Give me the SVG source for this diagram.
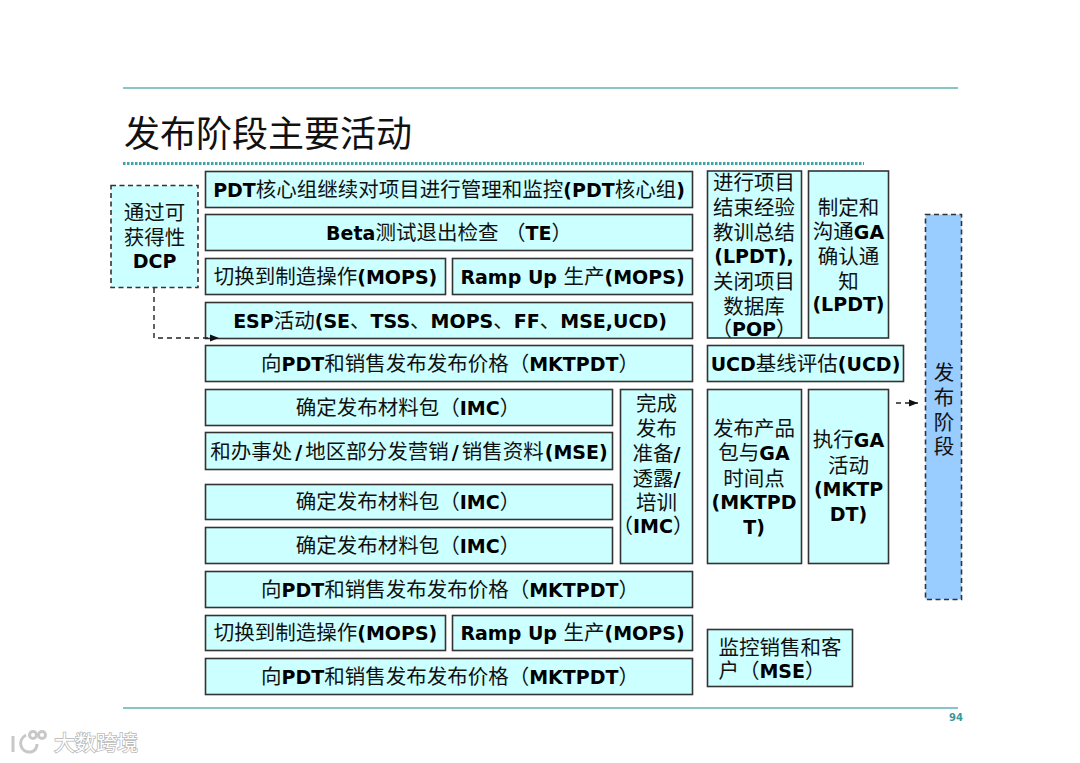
<svg xmlns="http://www.w3.org/2000/svg" width="1080" height="763" viewBox="0 0 1080 763">
<style>
text{font-family:"DejaVu Sans","Noto Sans CJK SC",sans-serif;font-size:20.500px;fill:#111;text-anchor:middle}
.b{font-weight:bold;font-size:19px;fill:#000}
.n rect{fill:#ccffff;stroke:#333;stroke-width:1.6}
.d rect{stroke-dasharray:5 3.500}
.c{fill:none;stroke:#222;stroke-width:1.400;stroke-dasharray:5 4}
.r{stroke:#5fb3b3;stroke-width:1.600}
</style>
<defs><marker id="a" markerWidth="10" markerHeight="8" refX="9" refY="4" orient="auto" markerUnits="userSpaceOnUse"><path d="M0 0.500L9 4L0 7.500z" fill="#111"/></marker></defs>
<rect width="1080" height="763" fill="#fff"/>
<line class="r" x1="123" y1="88" x2="958" y2="88"/>
<line class="r" x1="123" y1="708" x2="958" y2="708"/>
<line x1="123" y1="163.500" x2="864" y2="163.500" stroke="#3fa3a3" stroke-width="3" stroke-dasharray="2.500 1.500"/>
<text x="268" y="147" style="font-size:36px">发布阶段主要活动</text>
<text x="956" y="721" class="b" style="font-size:10px;fill:#3a9a9a">94</text>

<g id="dcp" class="n d"><rect x="111" y="185.500" width="87" height="102"/><text x="154.500" y="220">通过可</text><text x="154.500" y="245">获得性</text><text x="154.500" y="268" class="b">DCP</text></g>
<g id="n1" class="n"><rect x="205.500" y="171.500" width="487" height="36"/><text x="449" y="197"><tspan class="b">PDT</tspan>核心组继续对项目进行管理和监控<tspan class="b">(PDT</tspan>核心组<tspan class="b">)</tspan></text></g>
<g id="n2" class="n"><rect x="205.500" y="214.500" width="487" height="36"/><text x="449" y="240"><tspan class="b">Beta</tspan>测试退出检查 （<tspan class="b">TE</tspan>）</text></g>
<g id="n3a" class="n"><rect x="205.500" y="258.500" width="240" height="36"/><text x="325.500" y="284">切换到制造操作<tspan class="b">(MOPS)</tspan></text></g>
<g id="n3b" class="n"><rect x="452.500" y="258.500" width="240" height="36"/><text x="572.500" y="284"><tspan class="b">Ramp Up </tspan>生产<tspan class="b">(MOPS)</tspan></text></g>
<g id="n4" class="n"><rect x="205.500" y="302.500" width="487" height="36"/><text x="450" y="328"><tspan class="b">ESP</tspan>活动<tspan class="b">(SE</tspan>、<tspan class="b">TSS</tspan>、<tspan class="b">MOPS</tspan>、<tspan class="b">FF</tspan>、<tspan class="b">MSE,UCD)</tspan></text></g>
<g id="n5" class="n"><rect x="205.500" y="345.500" width="487" height="36"/><text x="450" y="371">向<tspan class="b">PDT</tspan>和销售发布发布价格（<tspan class="b">MKTPDT</tspan>）</text></g>
<g id="n6" class="n"><rect x="205.500" y="389.500" width="407" height="36"/><text x="408" y="415">确定发布材料包（<tspan class="b">IMC</tspan>）</text></g>
<g id="n7" class="n"><rect x="205.500" y="432.500" width="407" height="37"/><text x="409" y="459">和办事处<tspan class="b" dx="3">/</tspan><tspan dx="3">地区部分发营销</tspan><tspan class="b" dx="3">/</tspan><tspan dx="3">销售资料</tspan><tspan class="b" dx="1">(MSE)</tspan></text></g>
<g id="n8" class="n"><rect x="205.500" y="484.500" width="407" height="35"/><text x="408" y="509">确定发布材料包（<tspan class="b">IMC</tspan>）</text></g>
<g id="n9" class="n"><rect x="205.500" y="527.500" width="407" height="36"/><text x="408" y="553">确定发布材料包（<tspan class="b">IMC</tspan>）</text></g>
<g id="n10" class="n"><rect x="620.500" y="389.500" width="72" height="174"/><text x="656.500" y="411">完成</text><text x="656.500" y="436">发布</text><text x="656.500" y="461">准备<tspan class="b">/</tspan></text><text x="656.500" y="486">透露<tspan class="b">/</tspan></text><text x="656.500" y="510">培训</text><text x="653" y="533">（<tspan class="b">IMC</tspan>）</text></g>
<g id="n11" class="n"><rect x="205.500" y="571.500" width="487" height="36"/><text x="450" y="597">向<tspan class="b">PDT</tspan>和销售发布发布价格（<tspan class="b">MKTPDT</tspan>）</text></g>
<g id="n12a" class="n"><rect x="205.500" y="615.500" width="240" height="35"/><text x="325.500" y="640">切换到制造操作<tspan class="b">(MOPS)</tspan></text></g>
<g id="n12b" class="n"><rect x="452.500" y="615.500" width="240" height="35"/><text x="572.500" y="640"><tspan class="b">Ramp Up </tspan>生产<tspan class="b">(MOPS)</tspan></text></g>
<g id="n13" class="n"><rect x="205.500" y="658.500" width="487" height="36"/><text x="450" y="684">向<tspan class="b">PDT</tspan>和销售发布发布价格（<tspan class="b">MKTPDT</tspan>）</text></g>
<g id="r1" class="n"><rect x="707.500" y="171" width="94" height="167"/><text x="754" y="190">进行项目</text><text x="754" y="215">结束经验</text><text x="754" y="240">教训总结</text><text x="754" y="263" class="b">(LPDT),</text><text x="754" y="289">关闭项目</text><text x="754" y="314">数据库</text><text x="754" y="336">（<tspan class="b">POP</tspan>）</text></g>
<g id="r2" class="n"><rect x="808.500" y="171" width="80" height="167"/><text x="848.500" y="215">制定和</text><text x="848.500" y="239">沟通<tspan class="b">GA</tspan></text><text x="848.500" y="264">确认通</text><text x="848.500" y="289">知</text><text x="848.500" y="311" class="b">(LPDT)</text></g>
<g id="r3" class="n"><rect x="707.500" y="345.500" width="196" height="36"/><text x="805.500" y="371"><tspan class="b">UCD</tspan>基线评估<tspan class="b">(UCD)</tspan></text></g>
<g id="r4" class="n"><rect x="707.500" y="389.500" width="94" height="174"/><text x="754" y="436">发布产品</text><text x="754" y="460">包与<tspan class="b">GA</tspan></text><text x="754" y="486">时间点</text><text x="754" y="509" class="b">(MKTPD</text><text x="754" y="534" class="b">T)</text></g>
<g id="r5" class="n"><rect x="808.500" y="389.500" width="80" height="174"/><text x="848.500" y="447">执行<tspan class="b">GA</tspan></text><text x="848.500" y="473">活动</text><text x="848.500" y="496" class="b">(MKTP</text><text x="848.500" y="521" class="b">DT)</text></g>
<g id="r6" class="n"><rect x="707.500" y="629.500" width="145" height="57"/><text x="780" y="655">监控销售和客</text><text x="772" y="678">户（<tspan class="b">MSE</tspan>）</text></g>
<g id="release" class="n d"><rect x="925.500" y="214.500" width="36" height="385" style="fill:#99ccff"/><text x="944" y="380">发</text><text x="944" y="405">布</text><text x="944" y="430">阶</text><text x="944" y="454">段</text></g>

<g id="connectors">
<path class="c" d="M154 288V338H219" marker-end="url(#a)"/>
<path class="c" d="M896 403H918" marker-end="url(#a)"/>
</g>

<text x="96" y="750" style="font-size:21px;fill:#fff;stroke:#b5b5b5;stroke-width:1.500;paint-order:stroke">大数跨境</text>
<g fill="none" stroke="#c8c8c8" stroke-width="3"><path d="M13 736V752M26 735C17 740 20 753 31 752C35 751 37 748 37 744"/><circle cx="33" cy="735" r="3.500"/><circle cx="42" cy="735" r="3.500"/></g>
</svg>
